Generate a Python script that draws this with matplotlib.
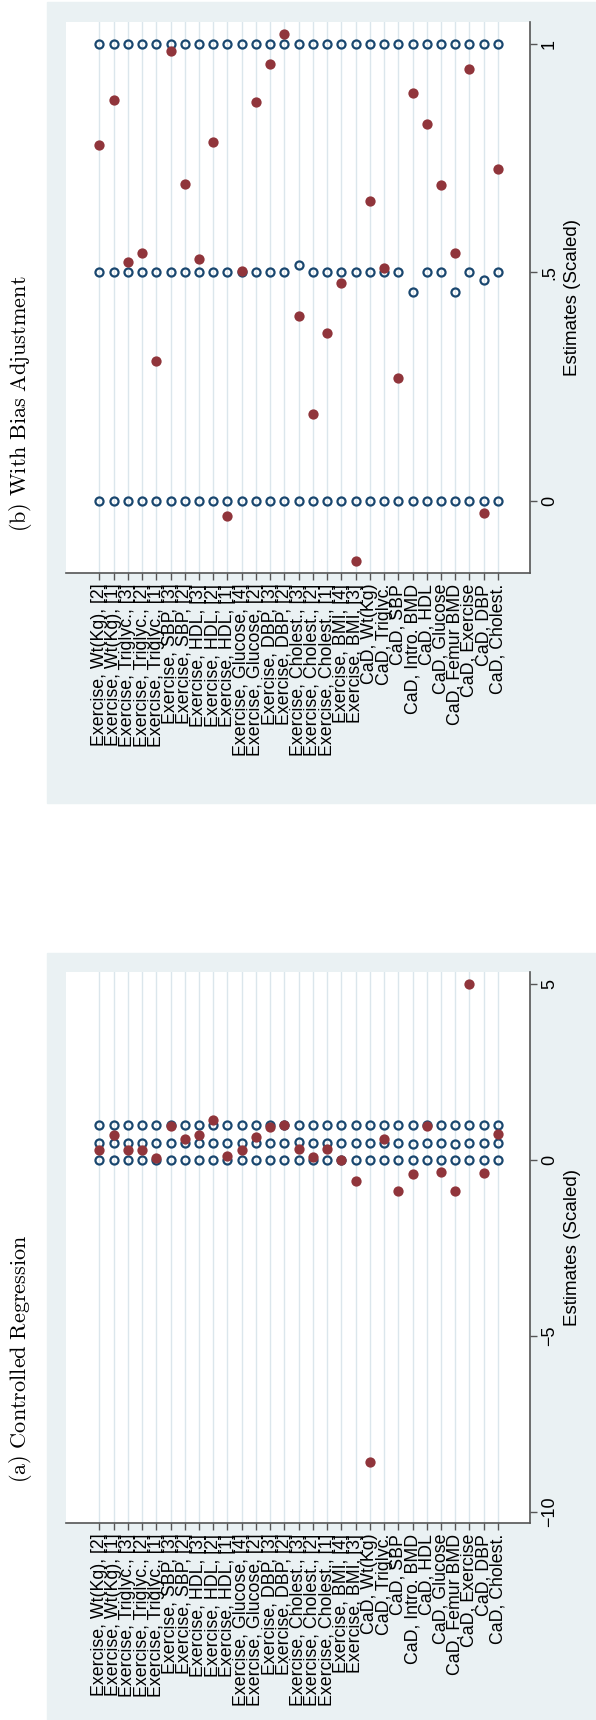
import matplotlib
matplotlib.use("Agg")
import matplotlib.pyplot as plt
from matplotlib.patches import Rectangle
import numpy as np

plt.rcParams['font.family'] = ['Liberation Sans', 'DejaVu Sans']
plt.rcParams['mathtext.fontset'] = 'cm'

labels = [
    "Exercise, Wt(Kg), [2]", "Exercise, Wt(Kg), [1]", "Exercise, Triglyc., [3]",
    "Exercise, Triglyc., [2]", "Exercise, Triglyc., [1]", "Exercise, SBP, [3]",
    "Exercise, SBP, [2]", "Exercise, HDL, [3]", "Exercise, HDL, [2]",
    "Exercise, HDL, [1]", "Exercise, Glucose, [4]", "Exercise, Glucose, [2]",
    "Exercise, DBP, [3]", "Exercise, DBP, [2]", "Exercise, Cholest., [3]",
    "Exercise, Cholest., [2]", "Exercise, Cholest., [1]", "Exercise, BMI, [4]",
    "Exercise, BMI, [3]", "CaD, Wt(Kg)", "CaD, Triglyc.", "CaD, SBP",
    "CaD, Intro. BMD", "CaD, HDL", "CaD, Glucose", "CaD, Femur BMD",
    "CaD, Exercise", "CaD, DBP", "CaD, Cholest.",
]

# reference points (hollow), same in both panels
ref_low = [0, 0, 0, 0, 0, 0, 0, 0, 0, 0, 0, 0, 0, 0, 0,
           0, 0, 0, 0, 0, 0, 0, 0, 0, 0, 0, 0, 0, 0]
ref_mid = [0.5, 0.5, 0.5, 0.5, 0.5, 0.5, 0.5, 0.5, 0.5, 0.5, 0.5, 0.5, 0.5, 0.5, 0.516,
           0.5, 0.5, 0.5, 0.5, 0.5, 0.5, 0.5, 0.457, 0.5, 0.5, 0.457, 0.5, 0.482, 0.5]
ref_high = [1, 1, 1, 1, 1, 1, 1, 1, 1, 1, 1, 1, 1, 1, 1,
            1, 1, 1, 1, 1, 1, 1, 1, 1, 1, 1, 1, 1, 1]

# estimates (filled)
est_controlled = [0.29, 0.70, 0.29, 0.29, 0.07, 0.96, 0.60, 0.70, 1.13, 0.11,
                  0.28, 0.65, 0.93, 0.99, 0.32, 0.08, 0.32, 0.0, -0.59, -8.57,
                  0.61, -0.87, -0.40, 0.96, -0.34, -0.87, 5.0, -0.36, 0.74]
est_bias_adj = [0.779, 0.877, 0.523, 0.543, 0.306, 0.984, 0.694, 0.529, 0.785, -0.034,
                0.503, 0.873, 0.956, 1.022, 0.404, 0.189, 0.367, 0.477, -0.133, 0.656,
                0.510, 0.268, 0.892, 0.825, 0.691, 0.542, 0.946, -0.027, 0.726]

ticks_a = [-10, -5, 0, 5]
ticklabels_a = ["\u221210", "\u22125", "0", "5"]
ticks_b = [0, 0.5, 1]
ticklabels_b = ["0", ".5", "1"]

NAVY = '#1a476f'
MAROON = '#90353b'
BG = '#eaf1f3'
AXC = '#555555'

W, H = 596, 1720
fig = plt.figure(figsize=(W / 100, H / 100), dpi=100)

# shaded panel backgrounds, kept behind the axes
fig.patches.append(Rectangle((47 / W, 1 - 803 / H), 1, (803 - 2) / H,
                             transform=fig.transFigure, color=BG, zorder=-10))
fig.patches.append(Rectangle((47 / W, 0), 1, 1 - 953 / H,
                             transform=fig.transFigure, color=BG, zorder=-10))


def panel(top_px, bottom_px, est, ylim, ticks, ticklabels, title, title_y):
    ax = fig.add_axes([66 / W, 1 - bottom_px / H, (530 - 66) / W, (bottom_px - top_px) / H])
    ax.set_facecolor('white')
    x = np.arange(len(labels))
    for ref in (ref_low, ref_mid, ref_high):
        ax.plot(x, ref, 'o', ms=5.8, mfc='none', mec=NAVY, mew=1.6, zorder=3)
    ax.plot(x, est, 'o', ms=7.4, color=MAROON, mew=0, zorder=4)

    ax.set_xlim(-2.34, 30.25)
    ax.set_ylim(*ylim)
    ax.set_xticks(x)
    ax.set_xticklabels(labels, rotation=90, ha='center', va='top', fontsize=12.8)
    ax.grid(axis='x', color='#dbe6ec', lw=1)
    ax.set_axisbelow(True)

    ax.yaxis.tick_right()
    ax.yaxis.set_label_position('right')
    ax.set_yticks(ticks)
    ax.set_yticklabels(ticklabels, rotation=90, va='center', fontsize=13)
    ax.set_ylabel("Estimates (Scaled)", rotation=90, fontsize=13.5, labelpad=4)

    for s in ('left', 'top'):
        ax.spines[s].set_visible(False)
    for s in ('bottom', 'right'):
        ax.spines[s].set_color(AXC)
        ax.spines[s].set_linewidth(1.2)
    ax.tick_params(axis='both', length=5, width=1, color=AXC, pad=3)

    fig.text(21 / W, 1 - title_y / H, title, rotation=90, ha='center', va='center',
             fontsize=16)
    return ax


panel(22, 572.7, est_bias_adj, (-0.158, 1.048), ticks_b, ticklabels_b,
      r'$\mathrm{(b)\ With\ Bias\ Adjustment}$', 404)
panel(972.3, 1522.7, est_controlled, (-10.31, 5.34), ticks_a, ticklabels_a,
      r'$\mathrm{(a)\ Controlled\ Regression}$', 1359)

fig.savefig("out.png", dpi=100, facecolor='white')
